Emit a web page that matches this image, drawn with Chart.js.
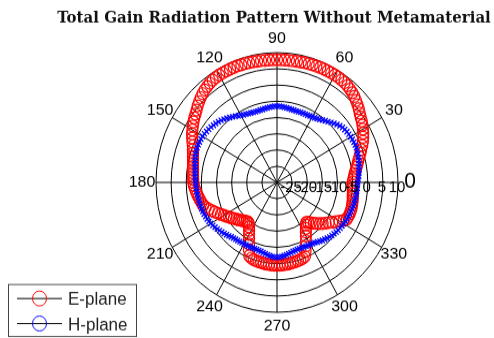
<!DOCTYPE html>
<html>
<head>
<meta charset="utf-8">
<script src="https://cdn.jsdelivr.net/npm/chart.js@4.4.0/dist/chart.umd.min.js"></script>
<style>
  html, body { margin: 0; padding: 0; background: #fff; }
  #wrap { position: relative; width: 494px; height: 338px; overflow: hidden; }
  #polar { display: block; }
</style>
</head>
<body>
<div id="wrap"><canvas id="polar" width="494" height="315" style="width:494px;height:338px"></canvas></div>
<script>
const chartTitle = 'Total Gain Radiation Pattern Without Metamaterial';
const seriesNames = ['E-plane', 'H-plane'];
const seriesColors = ['#ff0000', '#0000ff'];
const angleStep = 2; // degrees between samples, 0..358
const angleTicks = [0, 30, 60, 90, 120, 150, 180, 210, 240, 270, 300, 330];
const gainTicks = [-25, -20, -15, -10, -5, 0, 5, 10];
const gainMin = -30;
const gainMax = 10;

// gain in dB, from 0 deg counter-clockwise, every 2 deg
const ePlane = [
  -5.0, -4.8, -4.5, -4.2, -3.8, -3.3, -2.8, -2.3, -1.7, -1.0, -0.4, 0.4, 1.1, 1.7, 2.3,
  2.8, 3.3, 3.8, 4.2, 4.7, 5.3, 5.8, 6.3, 6.8, 7.2, 7.5, 7.8, 8.0, 8.1, 8.2,
  8.2, 8.2, 8.2, 8.2, 8.2, 8.1, 8.1, 8.0, 8.0, 7.9, 7.9, 7.8, 7.8, 7.8, 7.8,
  7.8, 7.8, 7.8, 7.8, 7.9, 7.9, 8.0, 8.0, 8.1, 8.1, 8.2, 8.2, 8.2, 8.2, 8.2,
  8.2, 8.1, 8.0, 7.8, 7.5, 7.2, 6.8, 6.3, 5.8, 5.3, 4.7, 4.2, 3.8, 3.3, 2.8,
  2.3, 1.8, 1.2, 0.6, 0.0, -0.4, -0.8, -1.1, -1.4, -1.6, -1.8, -2.0, -2.1, -2.2, -2.3,
  -2.3, -2.5, -2.8, -3.1, -3.4, -3.7, -4.0, -4.3, -4.6, -5.2, -6.0, -6.8, -7.5, -8.3, -9.0,
  -9.7, -10.3, -10.9, -11.4, -11.9, -12.4, -12.8, -13.2, -13.6, -14.0, -14.3, -14.5, -14.2, -13.5, -12.6,
  -11.5, -10.3, -8.9, -7.2, -5.6, -5.2, -5.0, -4.9, -4.8, -4.8, -4.7, -4.6, -4.6, -4.5, -4.5,
  -4.5, -4.5, -4.5, -4.6, -4.6, -4.7, -4.8, -4.8, -4.9, -5.0, -5.1, -5.4, -6.8, -8.2, -9.6,
  -10.9, -12.0, -12.9, -13.8, -14.3, -14.0, -13.3, -12.5, -11.8, -11.0, -10.3, -9.6, -8.9, -8.0, -7.1,
  -6.1, -5.1, -4.3, -4.2, -4.1, -4.1, -4.1, -4.2, -4.3, -4.4, -4.6, -4.7, -4.8, -4.9, -5.0
];
const hPlane = [
  -3.3, -3.1, -2.9, -2.8, -2.6, -2.5, -2.3, -2.1, -2.0, -1.9, -1.8, -1.7, -1.7, -1.7, -1.8,
  -1.9, -2.0, -2.1, -2.3, -2.5, -2.9, -3.3, -3.8, -4.3, -4.8, -5.2, -5.6, -6.0, -6.3, -6.5,
  -6.7, -6.8, -6.9, -7.0, -7.0, -7.0, -7.1, -7.1, -7.0, -7.0, -6.9, -6.8, -6.7, -6.6, -6.5,
  -6.5, -6.5, -6.6, -6.7, -6.8, -6.9, -7.0, -7.0, -7.1, -7.1, -7.0, -6.9, -6.8, -6.6, -6.4,
  -6.1, -5.8, -5.4, -5.0, -4.6, -4.2, -3.8, -3.4, -3.1, -2.8, -2.6, -2.3, -2.1, -1.9, -1.7,
  -1.6, -1.5, -1.5, -1.5, -1.5, -1.6, -1.7, -1.9, -2.1, -2.3, -2.5, -2.7, -2.8, -2.9, -3.0,
  -3.1, -3.2, -3.3, -3.3, -3.4, -3.5, -3.6, -3.6, -3.7, -3.8, -3.9, -4.0, -4.2, -4.3, -4.5,
  -4.7, -5.0, -5.3, -5.6, -5.9, -6.2, -6.5, -6.8, -7.1, -7.4, -7.6, -7.8, -7.9, -8.0, -8.1,
  -8.1, -8.2, -8.2, -8.2, -8.3, -8.3, -8.3, -8.2, -8.1, -7.9, -7.7, -7.5, -7.3, -7.1, -7.0,
  -6.9, -7.0, -7.1, -7.3, -7.5, -7.7, -7.9, -8.1, -8.2, -8.3, -8.3, -8.3, -8.2, -8.1, -8.0,
  -7.9, -7.8, -7.6, -7.3, -7.0, -6.7, -6.4, -6.1, -5.8, -5.6, -5.4, -5.2, -5.0, -4.8, -4.7,
  -4.5, -4.4, -4.3, -4.2, -4.1, -4.0, -3.9, -3.8, -3.7, -3.7, -3.6, -3.5, -3.5, -3.4, -3.4
];

// canvas is drawn 494x315 and stretched to 338 px tall, like the reference ellipse
const STRETCH = 338 / 315;
const N = 360 / angleStep;

// radar goes clockwise from startAngle, so walk the angles backwards
function indexOfAngle(a) {
  return ((360 - a) / angleStep) % N;
}
function reorder(arr) {
  const out = [];
  for (let i = 0; i < N; i++) out.push(arr[(N - i) % N]);
  return out;
}
const labels = [];
for (let i = 0; i < N; i++) labels.push(String((360 - i * angleStep) % 360));

const polarDecor = {
  id: 'polarDecor',
  beforeDatasetsDraw(chart) {
    const s = chart.scales.r;
    const ctx = chart.ctx;
    ctx.save();
    ctx.strokeStyle = '#000';
    ctx.lineWidth = 1;
    angleTicks.forEach(a => {
      const p = s.getPointPositionForValue(indexOfAngle(a), gainMax);
      ctx.beginPath();
      ctx.moveTo(s.xCenter, s.yCenter);
      ctx.lineTo(p.x, p.y);
      ctx.stroke();
    });
    ctx.restore();
  },
  afterDraw(chart) {
    const s = chart.scales.r;
    const ctx = chart.ctx;
    ctx.save();
    ctx.scale(1, 1 / STRETCH); // back to screen pixels for text
    ctx.fillStyle = '#000';
    ctx.textAlign = 'center';
    ctx.textBaseline = 'middle';

    // angle labels round the outer ring
    angleTicks.forEach(a => {
      const p = s.getPointPositionForValue(indexOfAngle(a), gainMax);
      const rad = a * Math.PI / 180;
      const off = a === 0 ? 12 : 14;
      const x = p.x + Math.cos(rad) * off;
      const y = p.y * STRETCH - Math.sin(rad) * off;
      ctx.font = (a === 0 ? '21px' : '16px') + ' "Liberation Sans", Arial, sans-serif';
      ctx.fillText(String(a), x, y);
    });

    // gain labels along the 0 deg axis
    ctx.font = '15px "Liberation Sans", Arial, sans-serif';
    gainTicks.forEach(v => {
      const p = s.getPointPositionForValue(indexOfAngle(0), v);
      ctx.fillText(String(v), p.x - 1, p.y * STRETCH + 6);
    });

    // title
    ctx.font = 'bold 15px "DejaVu Serif", serif';
    ctx.textBaseline = 'alphabetic';
    ctx.fillStyle = '#111';
    ctx.fillText(chartTitle, 274, 22);

    // legend box
    ctx.strokeStyle = '#444';
    ctx.lineWidth = 1;
    ctx.strokeRect(8.5, 284.5, 128, 52);
    ctx.font = '17px "Liberation Sans", Arial, sans-serif';
    ctx.textAlign = 'left';
    seriesNames.forEach((name, i) => {
      const y = 298 + i * 25;
      ctx.strokeStyle = '#000';
      ctx.beginPath();
      ctx.moveTo(17, y + 0.5);
      ctx.lineTo(62, y + 0.5);
      ctx.stroke();
      ctx.strokeStyle = seriesColors[i];
      ctx.beginPath();
      ctx.ellipse(39.5, y + 0.5, 7, 7.5, 0, 0, Math.PI * 2);
      ctx.stroke();
      ctx.fillStyle = '#222';
      ctx.fillText(name, 68, y + 7);
    });
    ctx.restore();
  }
};

new Chart(document.getElementById('polar'), {
  type: 'radar',
  data: {
    labels: labels,
    datasets: [
      {
        label: seriesNames[0],
        data: reorder(ePlane),
        showLine: false,
        fill: false,
        order: 2,
        pointStyle: 'circle',
        pointRadius: 5.5,
        pointBorderWidth: 1.2,
        pointBorderColor: seriesColors[0],
        pointBackgroundColor: 'rgba(0,0,0,0)'
      },
      {
        label: seriesNames[1],
        data: reorder(hPlane),
        showLine: false,
        fill: false,
        order: 1,
        pointStyle: 'crossRot',
        pointRadius: 3.5,
        pointBorderWidth: 1.3,
        pointBorderColor: seriesColors[1],
        pointBackgroundColor: seriesColors[1]
      }
    ]
  },
  options: {
    responsive: false,
    animation: false,
    layout: { padding: { left: 156, right: 96, top: 49, bottom: 24 } },
    plugins: {
      legend: { display: false },
      title: { display: false },
      tooltip: { enabled: false }
    },
    scales: {
      r: {
        min: gainMin,
        max: gainMax,
        startAngle: 90,
        ticks: { display: false, stepSize: 5 },
        grid: { circular: true, color: '#000', lineWidth: 1 },
        angleLines: { display: false },
        pointLabels: { display: false }
      }
    }
  },
  plugins: [polarDecor]
});
</script>
</body>
</html>
